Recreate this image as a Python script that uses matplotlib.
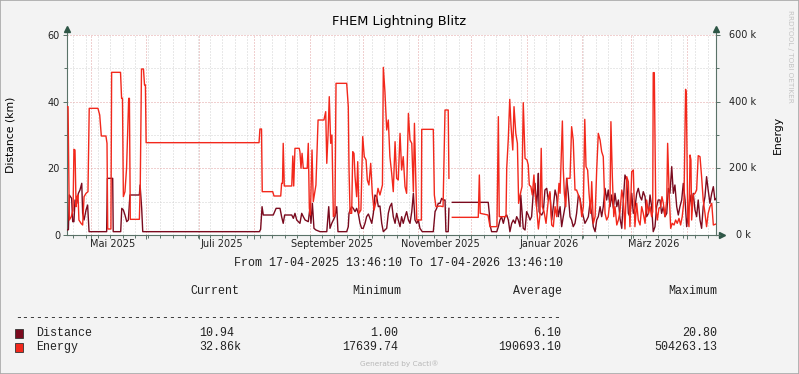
import matplotlib
matplotlib.use("Agg")
import matplotlib.pyplot as plt
import matplotlib.dates as mdates
from matplotlib.patches import Rectangle
from matplotlib.transforms import blended_transform_factory
from datetime import datetime, timedelta
import numpy as np

# ---------------- data ----------------
title = "FHEM Lightning Blitz"
start = datetime(2025, 4, 17, 13, 46, 10)
end = datetime(2026, 4, 17, 13, 46, 10)

month_label_dates = [(2025, 5), (2025, 7), (2025, 9), (2025, 11), (2026, 1), (2026, 3)]
month_labels = ["Mai 2025", "Juli 2025", "September 2025", "November 2025", "Januar 2026", "März 2026"]

left_ticks = [0, 20, 40, 60]
right_ticks_k = [0, 200, 400, 600]
right_tick_labels = ["0 k", "200 k", "400 k", "600 k"]

# Energy (in thousands), x = days since start
energy_days = [0.0,0.6,1.3,2.4,3.4,3.9,4.5,5.1,5.6,6.2,6.7,7.9,8.8,9.6,10.7,11.8,12.5,17.4,18.4,19.3,21.9,22.5,22.9,24.7,25.1,30.1,30.7,31.2,31.7,32.6,33.5,34.7,35.1,35.6,40.7,41.2,41.9,43.0,43.6,44.1,44.5,
    108.0,108.5,109.4,109.8,115.7,116.4,120.2,120.7,121.2,121.6,122.2,126.4,127.0,127.5,128.2,130.6,131.0,131.6,132.2,132.9,135.1,135.7,136.3,136.9,137.8,138.5,140.0,141.2,144.5,145.5,146.1,146.8,147.5,148.3,149.0,149.8,150.7,151.3,
    157.3,158.2,158.6,159.2,160.1,160.7,161.4,162.0,162.9,163.5,164.2,165.3,166.3,167.2,168.2,168.9,169.8,170.8,171.7,172.7,173.8,174.9,176.0,177.4,177.9,178.8,179.8,180.7,181.6,182.6,183.5,184.5,185.4,186.3,187.3,188.2,189.1,190.1,191.0,192.0,192.9,193.9,194.8,195.4,196.7,199.3,199.5,
    206.0,206.6,207.5,209.8,211.5,212.6,214.4,214.8,215.7,216.7,231.3,231.9,232.4,235.1,236.8,237.9,241.8,242.6,243.1,246.9,247.3,248.2,249.0,249.7,250.7,251.4,252.4,253.3,254.0,254.8,255.9,256.6,257.6,258.7,259.4,260.0,260.9,261.7,262.6,
    263.2,264.1,265.1,266.0,266.7,267.3,268.3,269.4,270.7,271.6,272.6,273.5,274.5,275.4,276.7,277.3,278.6,279.1,279.7,280.5,281.2,282.9,283.8,284.7,285.7,286.6,287.6,288.5,289.5,290.4,291.2,291.9,292.8,293.6,294.5,295.1,296.0,297.0,297.9,298.8,299.8,
    300.7,301.6,302.6,303.5,304.4,305.4,305.9,306.7,307.5,308.2,309.2,310.1,311.0,312.0,312.9,313.8,314.8,315.7,316.6,317.6,318.5,319.4,320.4,321.3,322.3,323.2,324.1,325.1,326.0,327.0,327.9,328.8,329.4,329.7,330.3,331.1,332.0,332.9,333.9,334.6,335.4,
    336.3,337.3,337.8,338.6,339.5,340.4,341.4,342.3,343.2,344.2,345.1,346.0,347.0,347.9,348.3,349.1,349.8,350.4,350.9,351.3,352.2,353.2,354.1,355.0,356.0,356.9,357.8,358.8,359.7,360.6,361.6,362.6,363.5,365.0]
energy_k = [385,385,45,55,75,257,255,85,115,120,45,35,30,115,125,130,380,380,360,297,297,275,18,18,488,488,410,410,115,130,200,410,410,47,47,150,498,498,450,450,277,
    277,318,318,130,130,117,117,155,155,275,147,147,237,147,260,260,250,200,245,200,200,275,80,60,255,100,150,345,345,370,215,300,415,275,300,55,60,455,
    455,385,200,65,65,250,245,175,115,220,65,75,295,235,225,165,150,215,125,75,100,140,120,150,503,430,315,345,235,185,130,280,170,165,305,195,235,145,125,365,285,275,130,335,45,45,317,
    317,120,85,87,85,375,375,170,None,53,53,180,65,62,60,25,25,355,55,55,200,290,407,330,255,385,305,275,95,120,145,397,230,225,210,150,145,120,180,
    125,85,18,60,260,85,70,35,105,130,30,25,85,55,155,125,342,200,125,85,170,170,325,285,135,135,120,105,55,85,347,205,195,125,65,160,35,55,195,305,285,
    250,235,65,45,55,105,340,175,55,85,30,45,70,135,105,18,175,160,25,190,195,25,95,45,30,85,65,35,105,65,85,55,70,487,487,85,45,80,85,115,95,
    55,105,275,135,20,35,30,45,35,50,30,55,105,437,425,55,25,240,225,45,120,125,135,238,235,175,105,65,25,65,85,95,30,33]

# Distance (km), x = days since start
distance_days = [0.0,0.8,1.3,2.6,3.2,3.9,4.5,5.5,6.4,7.3,8.3,8.8,9.6,10.7,11.6,12.4,22.3,22.7,25.7,26.0,30.2,30.8,31.7,32.6,33.6,34.5,35.4,40.7,41.1,42.0,42.6,
    108.2,108.9,109.7,110.4,116.0,117.6,119.8,120.7,121.6,122.4,126.4,127.3,128.2,129.2,131.0,132.0,132.9,133.9,135.7,136.7,137.2,138.0,138.9,140.0,142.3,146.1,147.2,147.9,148.9,149.8,150.7,151.7,152.4,
    157.3,158.2,158.6,159.2,160.1,161.0,162.0,162.9,163.8,164.8,165.7,166.6,167.6,168.5,169.5,170.4,171.4,172.3,173.2,174.2,175.1,176.0,177.0,177.9,178.8,179.8,180.7,181.6,182.6,183.5,184.5,185.4,186.3,187.3,188.2,189.1,190.1,191.0,192.0,192.9,193.9,194.8,195.7,196.7,197.6,198.5,199.8,
    206.0,207.0,207.9,208.8,209.8,210.7,211.6,212.6,213.1,214.4,214.8,215.7,216.7,236.9,237.6,237.9,238.8,241.7,242.6,243.5,244.4,245.4,246.3,247.3,248.2,249.1,250.1,251.0,252.0,252.9,253.8,254.8,255.2,255.7,256.6,257.6,258.5,259.4,260.4,261.3,262.2,
    263.2,264.1,264.6,265.1,265.5,266.0,267.0,267.9,268.8,269.8,270.7,271.6,272.6,273.5,274.5,275.4,276.3,277.3,278.2,279.1,280.1,281.0,281.9,282.9,283.8,284.7,285.7,286.6,287.6,288.5,289.5,290.4,291.3,292.3,293.2,294.1,295.1,296.0,297.0,297.9,298.8,299.8,
    300.7,301.6,302.6,303.5,304.4,305.4,306.3,307.3,308.2,309.2,310.1,311.0,312.0,312.9,313.8,314.8,315.7,316.6,317.6,318.5,319.4,320.4,321.3,322.3,323.2,324.1,325.1,326.0,327.0,327.9,328.8,329.7,330.7,331.6,332.5,333.5,334.4,335.4,
    336.3,337.3,338.2,339.1,340.1,341.0,341.9,342.9,343.8,344.7,345.7,346.6,347.6,348.5,349.4,350.4,351.3,352.2,353.2,354.1,355.0,356.0,356.9,357.8,358.8,359.7,360.6,361.6,362.6,363.5,364.4,365.0]
distance_km = [1.5,1.6,12,11,4,4,10.5,9.5,12.5,13.5,15.5,6.5,4.5,7.5,9,1,1,17,17,1,1,8,7.5,6,4,4.5,12,12,15,8,1,
    1,1.7,8.5,6,6,8,8,5.5,3.5,6,6,5,6.5,4.5,3.5,6.5,5.5,4.5,4,8.5,3.5,9.5,2,1.5,1,1,8.5,2,3.5,4.5,5.5,8.5,1,
    1,2.5,6.5,7.5,8.5,8,7,8,6.5,3.5,2,2,3.5,5.5,6.3,5,3.5,6.5,12,11.5,8.5,8.7,3.5,1,1.5,2,6.5,8.5,9.5,5.5,3.5,6.5,4.5,2.5,5.5,3.5,5.5,7,4.5,3.5,7,12.5,4.5,3.5,4.5,2,1,
    1,7,8,9.5,9.5,11,10.5,10.5,1,1,8,None,9.8,9.8,6,3,1,1,2.5,4.5,5.5,3.5,5.5,6,4.5,1,3.5,4.5,3.5,5.5,4.5,2.5,12,8.5,2,1.5,7,6,4.5,5.5,12.5,
    15.5,8.5,12.5,18.5,7,6.5,6,7,13.5,14,10.5,12.5,4.5,8.5,13.5,11.5,5.5,8.5,2.5,5.5,8.5,17,12.5,5.5,4.5,2.5,3.5,6.5,12,11,7.5,5.5,3.5,4.5,5.5,9.5,6.5,2.5,1,4.5,5.5,8.5,
    5.5,8.5,14,10.5,13.5,8.5,12,8,12.5,8.5,10.5,5,2,10.5,18,16.5,6.5,5.5,12.5,6.5,8,12.5,14,11.5,10.5,13,11.5,5.5,6.5,12,8.5,1,2.5,8.5,10.5,10.5,6.5,8.5,
    5.5,6.5,14,12.5,20.5,12.5,15,8.5,6,8.5,10.5,15.5,10.5,2.5,6.5,12,8.5,12.5,7.5,5.5,10.5,4.5,2,8.5,11.5,17.5,13.5,9.5,12.5,14.5,10.5,10.9]

legend_names = ["Distance", "Energy"]
legend_current = ["10.94", "32.86k"]
legend_minimum = ["1.00", "17639.74"]
legend_average = ["6.10", "190693.10"]
legend_maximum = ["20.80", "504263.13"]

# ---------------- styles ----------------
W, H = 799, 374
BG = "#F3F3F3"
C_DIST = "#7A0A1E"
C_ENER = "#F2281C"
C_AXIS = "#5A7268"
C_ARROW = "#2E5646"
C_MAJ = "#E3A3A3"
C_MIN = "#D2D2D2"
MONO = "Liberation Mono"

fig = plt.figure(figsize=(W / 100, H / 100), dpi=100, facecolor=BG)
ax = fig.add_axes([67 / W, 1 - 235 / H, 649 / W, 200 / H])
ax.set_facecolor("white")

def to_dates(days):
    return [start + timedelta(days=float(d)) for d in days]

ed = to_dates(energy_days)
ev = np.array([np.nan if v is None else v for v in energy_k], dtype=float)
dd = to_dates(distance_days)
dv = np.array([np.nan if v is None else v for v in distance_km], dtype=float)

ax.plot(dd, dv, color=C_DIST, lw=1.0, zorder=3)
ax.set_xlim(start, end)
ax.set_ylim(0, 60)

# grids
ax.xaxis.set_major_locator(mdates.MonthLocator())
ax.xaxis.set_minor_locator(mdates.WeekdayLocator(byweekday=mdates.MO))
ax.xaxis.set_major_formatter(plt.NullFormatter())
ax.set_yticks(left_ticks)
ax.set_yticks([10, 30, 50], minor=True)
ax.grid(which="minor", color=C_MIN, linestyle=(0, (1, 2)), lw=0.72, zorder=1)
ax.grid(which="major", color=C_MAJ, linestyle=(0, (1, 2)), lw=0.72, zorder=1)
ax.set_axisbelow(True)

ax.tick_params(axis="both", which="major", length=3, width=0.7, color=C_AXIS, direction="out")
ax.tick_params(axis="both", which="minor", length=2, width=0.7, color=C_AXIS, direction="out")
ax.tick_params(axis="y", labelsize=7, pad=2, labelcolor="#222222")
for s in ["top", "right"]:
    ax.spines[s].set_visible(False)
for s in ["left", "bottom"]:
    ax.spines[s].set_color(C_AXIS)
    ax.spines[s].set_linewidth(0.8)

# energy on twin axis
ax2 = ax.twinx()
ax2.plot(ed, ev, color=C_ENER, lw=1.0, zorder=4)
ax2.set_ylim(0, 600)
ax2.set_xlim(start, end)
ax2.set_yticks(right_ticks_k)
ax2.set_yticks([100, 300, 500], minor=True)
ax2.set_yticklabels([])
ax2.tick_params(axis="y", which="major", length=3, width=0.7, color=C_AXIS)
ax2.tick_params(axis="y", which="minor", length=2, width=0.7, color=C_AXIS)
for s in ["top", "left", "bottom"]:
    ax2.spines[s].set_visible(False)
ax2.spines["right"].set_color(C_AXIS)
ax2.spines["right"].set_linewidth(0.8)
ax2.patch.set_visible(False)

tr_r = blended_transform_factory(ax2.transAxes, ax2.transData)
for v, lab in zip(right_ticks_k, right_tick_labels):
    ax2.text((743 - 67) / 649, v, lab, transform=tr_r, ha="center", va="center",
             fontsize=7, color="#222222")

# month labels
tr_x = blended_transform_factory(ax.transData, ax.transAxes)
for (yy, mm), lab in zip(month_label_dates, month_labels):
    xd = datetime(yy, mm, 1) + timedelta(days=12.5)
    ax.text(mdates.date2num(xd), -0.045, lab, transform=tr_x, ha="center", va="center",
            fontsize=7, color="#222222")

# axis arrows
ax.plot([0, 0], [1, 1.028], transform=ax.transAxes, color=C_AXIS, lw=0.8, clip_on=False)
ax.plot([0], [1.03], marker="^", ms=4, color=C_ARROW, transform=ax.transAxes, clip_on=False)
ax.plot([1, 1], [1, 1.028], transform=ax.transAxes, color=C_AXIS, lw=0.8, clip_on=False)
ax.plot([1], [1.03], marker="^", ms=4, color=C_ARROW, transform=ax.transAxes, clip_on=False)
ax.plot([1, 1.009], [0, 0], transform=ax.transAxes, color=C_AXIS, lw=0.8, clip_on=False)
ax.plot([1.01], [0], marker=">", ms=4, color=C_ARROW, transform=ax.transAxes, clip_on=False)

# texts
def ftext(x, y, s, **kw):
    fig.text(x / W, 1 - y / H, s, **kw)

ftext(399, 22, title, ha="center", va="center", fontsize=9.4, color="black")
ftext(11, 135, "Distance (km)", ha="center", va="center", rotation=90, fontsize=7.8, color="black")
ftext(778, 135, "Energy", ha="center", va="center", rotation=90, fontsize=7.8, color="black")
ftext(790, 56, "RRDTOOL / TOBI OETIKER", ha="center", va="center", rotation=270,
      fontsize=5.2, color="#C4C4C4")

mono = dict(family=MONO, fontsize=8.4, color="#222222", va="center")
ftext(399, 263, "From 17-04-2025 13:46:10 To 17-04-2026 13:46:10", ha="center", **mono)
ftext(239, 291, "Current", ha="right", **mono)
ftext(401, 291, "Minimum", ha="right", **mono)
ftext(562, 291, "Average", ha="right", **mono)
ftext(717, 291, "Maximum", ha="right", **mono)
ftext(15, 318, "-" * 78, ha="left", **mono)

row_y = [333, 347]
sq_colors = [C_DIST, C_ENER]
for i in range(2):
    y = row_y[i]
    fig.patches.append(Rectangle((15 / W, 1 - (y + 4.5) / H), 8 / W, 9 / H, transform=fig.transFigure,
                                 facecolor=sq_colors[i], edgecolor="#333333", lw=0.6))
    ftext(36, y, legend_names[i], ha="left", **mono)
    ftext(199, y, legend_current[i], ha="left", **mono)
    ftext(398, y, legend_minimum[i], ha="right", **mono)
    ftext(561, y, legend_average[i], ha="right", **mono)
    ftext(717, y, legend_maximum[i], ha="right", **mono)

ftext(399, 364, "Generated by Cacti®", ha="center", va="center", fontsize=5.3, color="#B8B8B8")

fig.patches.append(Rectangle((0, 0), 1, 1, transform=fig.transFigure, fill=False,
                             edgecolor="#A8A8A8", lw=1.2))

fig.savefig("out.png", dpi=100, facecolor=BG)
